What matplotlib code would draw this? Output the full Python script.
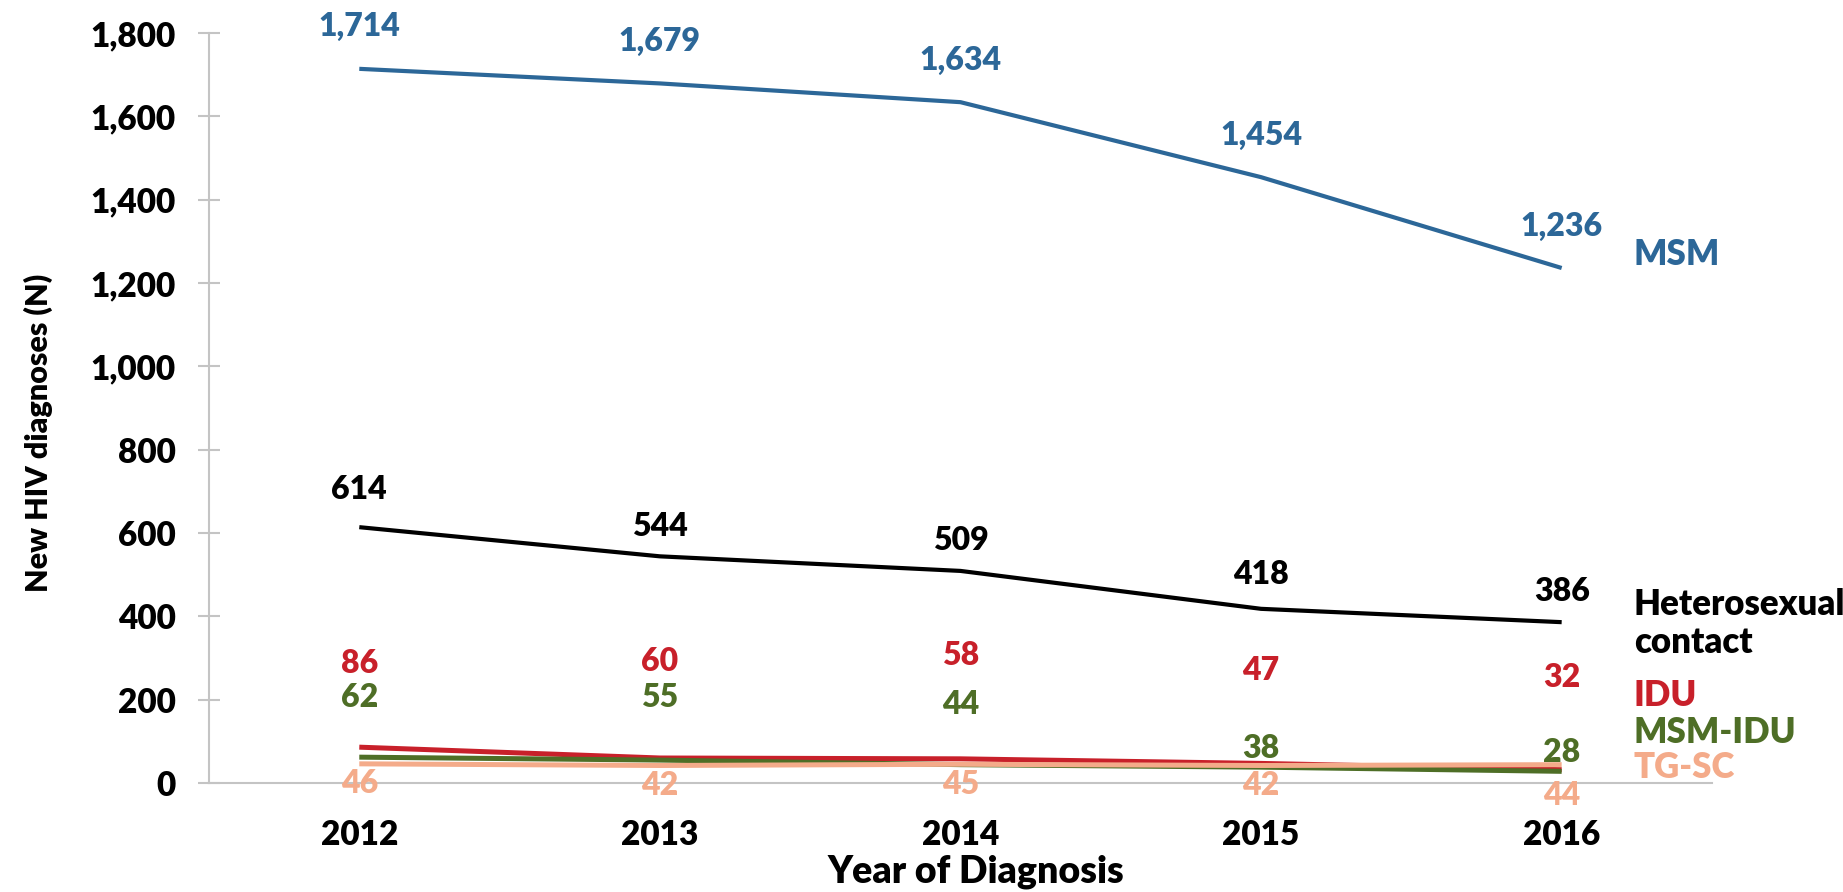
import matplotlib
matplotlib.use("Agg")
import matplotlib.pyplot as plt
from matplotlib.ticker import FuncFormatter

plt.rcParams["font.family"] = ["Lato", "DejaVu Sans"]
plt.rcParams["font.weight"] = "heavy"

years = [2012, 2013, 2014, 2015, 2016]
msm = [1714, 1679, 1634, 1454, 1236]
heterosexual = [614, 544, 509, 418, 386]
idu = [86, 60, 58, 47, 32]
msm_idu = [62, 55, 44, 38, 28]
tg_sc = [46, 42, 45, 42, 44]

# name, values, colour, line width, label offsets (px), series tag height
series = [
    ("MSM", msm, "#2c6798", 3.0, [42, 42, 42, 42, 42], 1268),
    ("Heterosexual\ncontact", heterosexual, "#000000", 3.0, [38, 30, 30, 34, 31], 383),
    ("IDU", idu, "#c8202a", 3.6, [84, 96, 103, 93, 92], 211),
    ("MSM-IDU", msm_idu, "#4e6e26", 3.6, [60, 63, 60, 19, 19], 120),
    ("TG-SC", tg_sc, "#f4ab8a", 3.6, [-20, -20, -20, -20, -31], 38),
]

fig = plt.figure(figsize=(18.43, 8.92), dpi=100)
ax = fig.add_axes([0.1134, 0.1222, 0.8155, 0.8408])

for name, vals, color, lw, offs, tag_y in series:
    ax.plot(years, vals, color=color, lw=lw, solid_capstyle="butt", zorder=3)
    for x, v, off in zip(years, vals, offs):
        ax.annotate(f"{v:,}", (x, v), xytext=(0, off), textcoords="offset pixels",
                    ha="center", va="center", fontsize=23, fontweight="heavy",
                    color=color, zorder=4)
    ax.text(2016.24, tag_y, name, ha="left", va="center", fontsize=25,
            fontweight="heavy", color=color, linespacing=1.2)

ax.set_xlim(2011.5, 2016.5)
ax.set_ylim(0, 1800)
ax.set_yticks(range(0, 1801, 200))
ax.yaxis.set_major_formatter(FuncFormatter(lambda v, p: f"{int(v):,}"))
ax.set_xticks(years)
ax.set_xticklabels([str(y) for y in years])

for side in ("top", "right"):
    ax.spines[side].set_visible(False)
for side in ("left", "bottom"):
    ax.spines[side].set_color("#c4c4c4")
    ax.spines[side].set_linewidth(1.5)

ax.tick_params(axis="y", direction="inout", length=16, width=1.5, color="#c4c4c4",
               labelsize=24, pad=16)
ax.tick_params(axis="x", length=0, labelsize=24, pad=26)

ax.set_ylabel("New HIV diagnoses (N)", fontsize=22, fontweight="heavy")
ax.set_xlabel("Year of Diagnosis", fontsize=27, fontweight="heavy")
ax.yaxis.set_label_coords(-0.104, 0.467)
ax.xaxis.set_label_coords(0.51, -0.096)

fig.savefig("out.png", dpi=100, facecolor="white")
